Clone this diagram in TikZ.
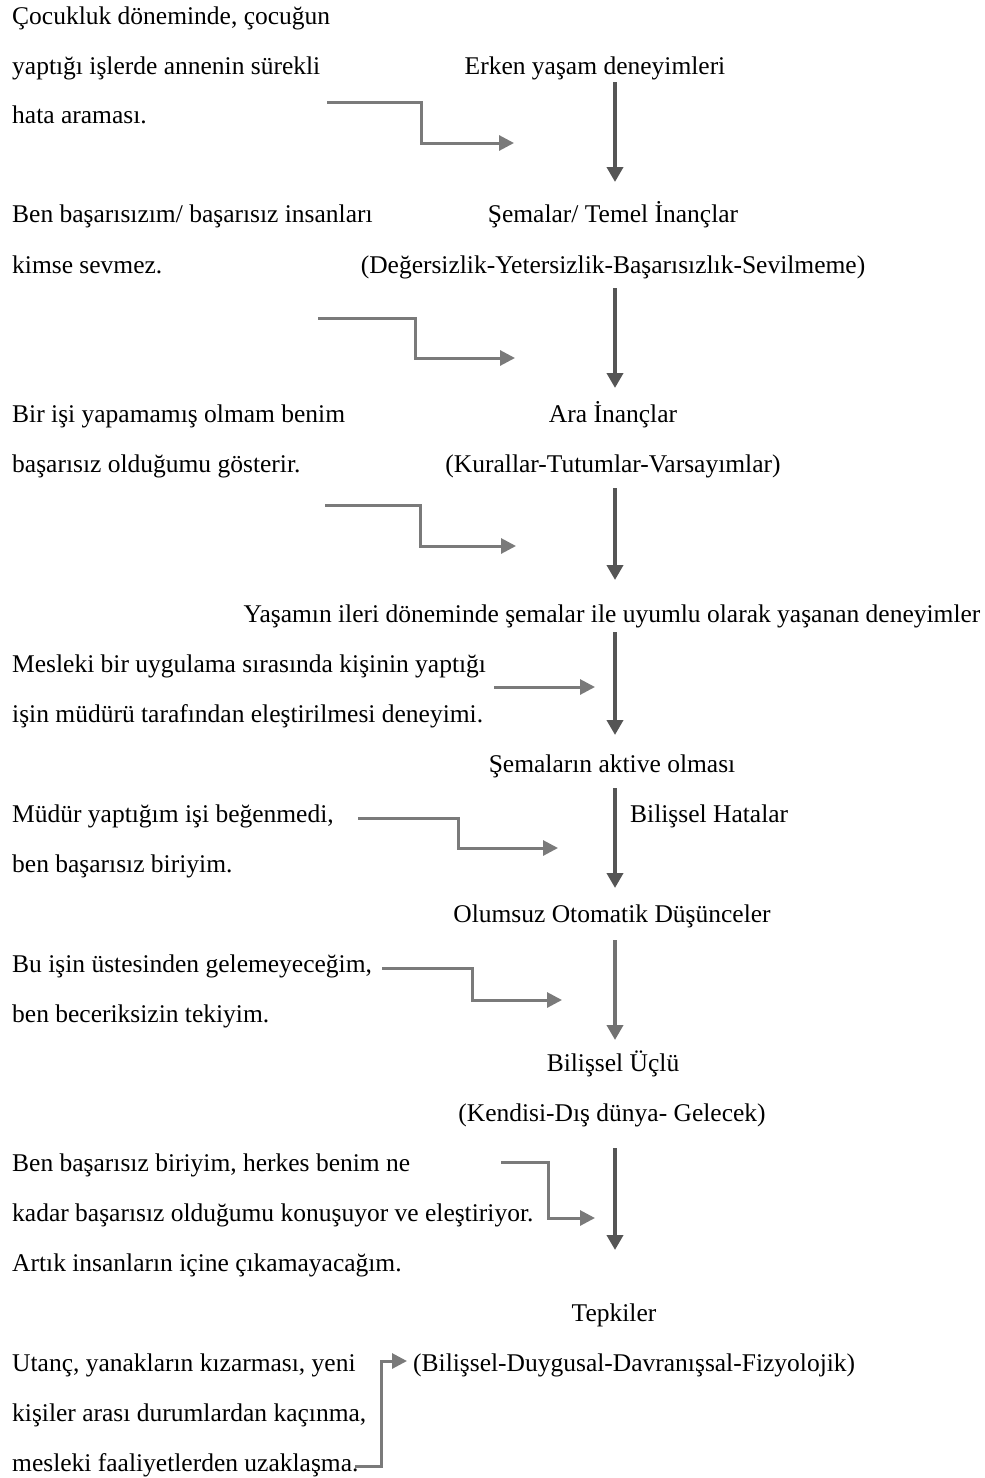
\documentclass[tikz,border=0pt]{standalone}
\usepackage{fontspec}
\setmainfont{Liberation Serif}
\usepackage{tikz}
\usetikzlibrary{arrows.meta,positioning,calc}
\definecolor{flowgray}{HTML}{555555}
\definecolor{lightflow}{HTML}{727272}
\definecolor{hintgray}{HTML}{7A7A7A}

\begin{document}
\begin{tikzpicture}[x=1pt, y=-1pt,
    every node/.style={font=\fontsize{25.5}{30}\selectfont, inner sep=0pt, text=black},
    lbl/.style={anchor=base west},
    ctr/.style={anchor=base},
    flow/.style={-{Triangle[length=15pt,width=16pt]}, flowgray, line width=4pt},
    hint/.style={-{Triangle[length=15pt,width=15pt]}, hintgray, line width=3pt}]
  \useasboundingbox (0,0) rectangle (985,1478);

  % left column: examples
  \node[lbl] (c1) at (12,24) {Çocukluk döneminde, çocuğun};
  \node[lbl] (c2) at (12,74) {yaptığı işlerde annenin sürekli};
  \node[lbl] (c3) at (12,123) {hata araması.};
  \node[lbl] (b1) at (12,222) {Ben başarısızım/ başarısız insanları};
  \node[lbl] (b2) at (12,273) {kimse sevmez.};
  \node[lbl] (y1) at (12,422) {Bir işi yapamamış olmam benim};
  \node[lbl] (y2) at (12,472) {başarısız olduğumu gösterir.};
  \node[lbl] (m1) at (12,672) {Mesleki bir uygulama sırasında kişinin yaptığı};
  \node[lbl] (m2) at (12,722) {işin müdürü tarafından eleştirilmesi deneyimi.};
  \node[lbl] (d1) at (12,822) {Müdür yaptığım işi beğenmedi,};
  \node[lbl] (d2) at (12,872) {ben başarısız biriyim.};
  \node[lbl] (g1) at (12,972) {Bu işin üstesinden gelemeyeceğim,};
  \node[lbl] (g2) at (12,1022) {ben beceriksizin tekiyim.};
  \node[lbl] (h1) at (12,1171) {Ben başarısız biriyim, herkes benim ne};
  \node[lbl] (h2) at (12,1221) {kadar başarısız olduğumu konuşuyor ve eleştiriyor.};
  \node[lbl] (h3) at (12,1271) {Artık insanların içine çıkamayacağım.};
  \node[lbl] (u1) at (12,1371) {Utanç, yanakların kızarması, yeni};
  \node[lbl] (u2) at (12,1421) {kişiler arası durumlardan kaçınma,};
  \node[lbl] (u3) at (12,1471) {mesleki faaliyetlerden uzaklaşma.};

  % right column: model
  \node[ctr] (erken) at (595,74) {Erken yaşam deneyimleri};
  \node[ctr] (sema) at (613,222) {Şemalar/ Temel İnançlar};
  \node[ctr] (semaalt) at (613,273) {(Değersizlik-Yetersizlik-Başarısızlık-Sevilmeme)};
  \node[ctr] (ara) at (613,422) {Ara İnançlar};
  \node[ctr] (araalt) at (613,472) {(Kurallar-Tutumlar-Varsayımlar)};
  \node[ctr] (yasam) at (612,622) {Yaşamın ileri döneminde şemalar ile uyumlu olarak yaşanan deneyimler};
  \node[ctr] (aktive) at (612,772) {Şemaların aktive olması};
  \node[lbl] (hatalar) at (630,822) {Bilişsel Hatalar};
  \node[ctr] (olumsuz) at (612,922) {Olumsuz Otomatik Düşünceler};
  \node[ctr] (uclu) at (613,1071) {Bilişsel Üçlü};
  \node[ctr] (ucluAlt) at (612,1121) {(Kendisi-Dış dünya- Gelecek)};
  \node[ctr] (tepki) at (614,1321) {Tepkiler};
  \node[lbl] (tepkiAlt) at (413,1371) {(Bilişsel-Duygusal-Davranışsal-Fizyolojik)};

  % main flow
  \foreach \i/\a/\b in {1/82/182, 2/288/388, 3/488/580, 4/632/735, 5/788/888, 6/940/1040, 7/1148/1250} {
    \coordinate (v\i top) at (615,\a);
    \coordinate (v\i end) at (615,\b);
  }
  \draw[flow] (v1top) -- (v1end);
  \draw[flow] (v2top) -- (v2end);
  \draw[flow] (v3top) -- (v3end);
  \draw[flow] (v4top) -- (v4end);
  \draw[flow] (v5top) -- (v5end);
  \draw[flow, lightflow] (v6top) -- (v6end);
  \draw[flow] (v7top) -- (v7end);

  % example arrows
  \coordinate (e1) at (327,102);  \coordinate (t1) at (514,143);
  \coordinate (e2) at (318,318);  \coordinate (t2) at (515,358);
  \coordinate (e3) at (325,505);  \coordinate (t3) at (516,546);
  \coordinate (e4) at (494,687);  \coordinate (t4) at (595,687);
  \coordinate (e5) at (358,818);  \coordinate (t5) at (558,848);
  \coordinate (e6) at (382,968);  \coordinate (t6) at (562,1000);
  \coordinate (e7) at (501,1162); \coordinate (t7) at (595,1218);
  \coordinate (e8) at (355,1466); \coordinate (t8) at (407,1361);
  \draw[hint] (e1) -- ++(94,0) |- (t1);
  \draw[hint] (e2) -- ++(97,0) |- (t2);
  \draw[hint] (e3) -- ++(95,0) |- (t3);
  \draw[hint] (e4) -- (t4);
  \draw[hint] (e5) -- ++(100,0) |- (t5);
  \draw[hint] (e6) -- ++(90,0) |- (t6);
  \draw[hint] (e7) -- ++(47,0) |- (t7);
  \draw[hint] (e8) -- ++(26,0) |- (t8);
\end{tikzpicture}
\end{document}
